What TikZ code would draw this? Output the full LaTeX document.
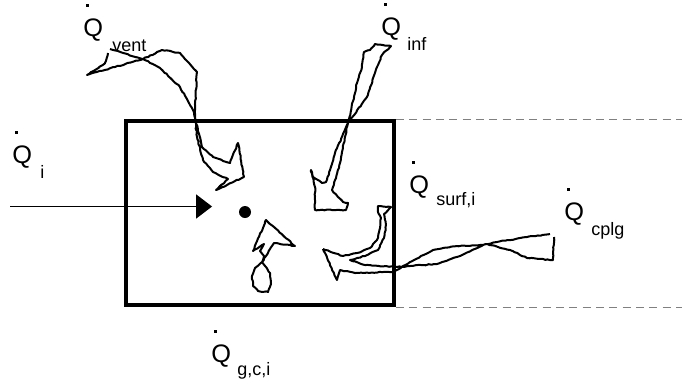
\documentclass[tikz,border=0pt]{standalone}
\usepackage{fontspec}
\setmainfont{Liberation Sans}
\usepackage{tikz}
\usetikzlibrary{arrows.meta, positioning, decorations.pathmorphing}

\newcommand{\qdot}{\rlap{\kern0.12em\smash{\rule[1.15em]{0.1em}{0.1em}}}Q}

\begin{document}
\begin{tikzpicture}[
    x=0.75pt, y=-0.75pt,
    room/.style={draw, line width=3pt, minimum width=201pt, minimum height=138pt, inner sep=0},
    dashline/.style={draw, gray, line width=0.5pt, dash pattern=on 6pt off 4pt},
    qlab/.style={anchor=base west, inner sep=0, font=\fontsize{19}{19}\selectfont},
    sub/.style={anchor=base west, inner sep=0, font=\fontsize{13.5}{14}\selectfont},
    flow/.style={draw, line width=1.5pt, line join=round, decorate,
        decoration={random steps, segment length=2pt, amplitude=0.35pt}},
    arr/.style={-{Triangle[length=12pt, width=18pt]}, line width=1.3pt},
]
\pgfmathsetseed{7}
\useasboundingbox (0,0) rectangle (682,383);

% Zone
\node[room] (room) at (260,213) {};
\draw[dashline] (room.north east) -- ++(288,0);
\draw[dashline] (room.south east) -- ++(288,0);

% Zone air node
\node[circle, fill, inner sep=0, minimum size=9pt] (air) at (245,212) {};

% Labels
\node[qlab] (qi) at (12,163) {\qdot};
\node[sub] (qisub) at (40,178) {i};
\node[qlab] (qvent) at (83,36) {\qdot};
\node[sub] (qventsub) at (112,51) {vent};
\node[qlab] (qinf) at (381,35) {\qdot};
\node[sub] (qinfsub) at (407,50) {inf};
\node[qlab] (qsurf) at (409,193) {\qdot};
\node[sub] (qsurfsub) at (436,205) {surf,i};
\node[qlab] (qcplg) at (564,220) {\qdot};
\node[sub] (qcplgsub) at (591,235) {cplg};
\node[qlab] (qgci) at (211,362) {\qdot};
\node[sub] (qgcisub) at (237,375) {g,c,i};

% Heat flow into the zone air
\coordinate (qin) at (10,206.5);
\draw[arr, shorten >=20pt] (qin) -- (qin -| air.west);

% Ventilation
\draw[flow] (108,53) .. controls (106,63) .. (87,75) -- (143,59) -- (162,50) -- (180,53)
    -- (197,72) -- (195,110) -- (195,118) -- (202,147) -- (213,157) -- (230,163)
    -- (238,143) -- (244,177) -- (216,190) -- (228,179) -- (213,172) -- (203,160)
    -- (197,137) -- (195,118) -- (193,110) -- (180,87) -- (160,68) -- (143,59) -- (110,49);

% Infiltration
\draw[flow] (342,152) -- (340,163) -- (335,180) -- (332,190) -- (338,197) -- (343,202)
    -- (348,203) -- (346,210) -- (315,210) -- (315,187) -- (311,170) -- (313,177)
    -- (322,183) -- (326,182) -- (330,170) -- (335,153) -- (348,123) -- (367,97)
    -- (377,67) -- (382,55) -- (391,46) -- (375,44) -- (370,50) -- (364,52)
    -- (362,67) -- (357,83) -- (348,123) -- cycle;

% Internal gains
\draw[flow] (266,220) -- (295,246) -- (274,243) -- (270,249) -- (266,256) -- (262,262)
    -- (255,268) -- (252,276) -- (253,286) -- (258,291) -- (268,292) -- (271,284)
    -- (270,273) -- (266,267) -- (262,262) -- (264,256) -- (260,251) -- (264,244)
    -- (253,251) -- cycle;

% Surfaces and coupling
\draw[flow] (323,249) -- (343,256) -- (357,253) -- (370,248) -- (377,240) -- (380,228)
    -- (381,218) -- (378,212) -- (378,206) -- (391,207) -- (384,214) -- (386,225)
    -- (384,238) -- (378,250) -- (365,256) -- (350,260) -- (365,265) -- (397,267)
    -- (410,266) -- (437,264) -- (460,256) -- (483,245) -- (497,242) -- (527,237)
    -- (550,234)
    (554,237) -- (553,260) -- (527,258) -- (510,250) -- (487,244) -- (483,245)
    -- (457,246) -- (433,250) -- (410,262) -- (393,272) -- (355,273) -- (340,270)
    -- (337,280) -- (323,249);
\end{tikzpicture}
\end{document}
